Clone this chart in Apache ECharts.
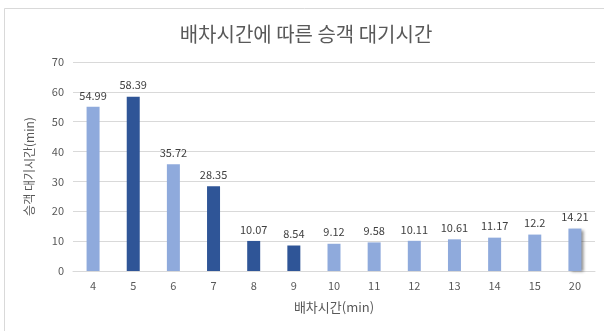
<!DOCTYPE html>
<html>
<head>
<meta charset="utf-8">
<script src="https://cdn.jsdelivr.net/npm/echarts@6/dist/echarts.min.js"></script>
<style>
  html, body { margin: 0; padding: 0; background: #fff; }
  #chart { width: 604px; height: 331px; }
</style>
</head>
<body>
<div id="chart"></div>
<script>
// 배차시간별 승객 대기시간 데이터
const categories = ['4', '5', '6', '7', '8', '9', '10', '11', '12', '13', '14', '15', '20'];
const waitTimes = [54.99, 58.39, 35.72, 28.35, 10.07, 8.54, 9.12, 9.58, 10.11, 10.61, 11.17, 12.2, 14.21];
// 진하게 강조할 배차시간
const highlighted = ['5', '7', '8', '9'];
const yTicks = { min: 0, max: 70, interval: 10 };

const light = '#8faadc';
const dark = '#2f5597';
const textColor = '#595959';

const barData = waitTimes.map((v, i) => {
  const item = {
    value: v,
    itemStyle: { color: highlighted.includes(categories[i]) ? dark : light }
  };
  if (i === waitTimes.length - 1) {
    item.itemStyle.shadowColor = 'rgba(0,0,0,0.45)';
    item.itemStyle.shadowBlur = 3;
    item.itemStyle.shadowOffsetX = 3;
    item.itemStyle.shadowOffsetY = 1;
  }
  return item;
});

const chart = echarts.init(document.getElementById('chart'), null, { renderer: 'canvas' });
chart.setOption({
  animation: false,
  backgroundColor: '#fff',
  textStyle: { fontFamily: '"Noto Sans CJK KR", "Noto Sans", sans-serif' },
  graphic: [{
    type: 'rect',
    shape: { x: 4.5, y: 8.5, width: 640, height: 360 },
    style: { fill: 'none', stroke: '#d9d9d9', lineWidth: 1 },
    silent: true,
    z: -1
  }],
  title: {
    text: '배차시간에 따른 승객 대기시간',
    left: 301,
    textAlign: 'center',
    top: 19,
    textStyle: { fontSize: 20, fontWeight: 'normal', color: textColor }
  },
  grid: { left: 73, right: 9, top: 62, bottom: 60 },
  xAxis: {
    type: 'category',
    data: categories,
    name: '배차시간(min)',
    nameLocation: 'middle',
    nameGap: 30,
    nameTextStyle: { fontSize: 13, color: textColor },
    axisLine: { lineStyle: { color: '#d9d9d9' } },
    axisTick: { show: false },
    axisLabel: { color: textColor, fontSize: 11, margin: 9 }
  },
  yAxis: {
    type: 'value',
    min: yTicks.min,
    max: yTicks.max,
    interval: yTicks.interval,
    name: '승객 대기시간(min)',
    nameLocation: 'middle',
    nameGap: 38,
    nameRotate: 90,
    nameTextStyle: { fontSize: 12, color: textColor },
    axisLabel: { color: textColor, fontSize: 11, margin: 9 },
    splitLine: { lineStyle: { color: '#d9d9d9' } },
    axisLine: { show: false },
    axisTick: { show: false }
  },
  series: [{
    type: 'bar',
    data: barData,
    barWidth: 13,
    label: {
      show: true,
      position: 'top',
      distance: 6,
      color: '#404040',
      fontSize: 11
    }
  }]
});
</script>
</body>
</html>
